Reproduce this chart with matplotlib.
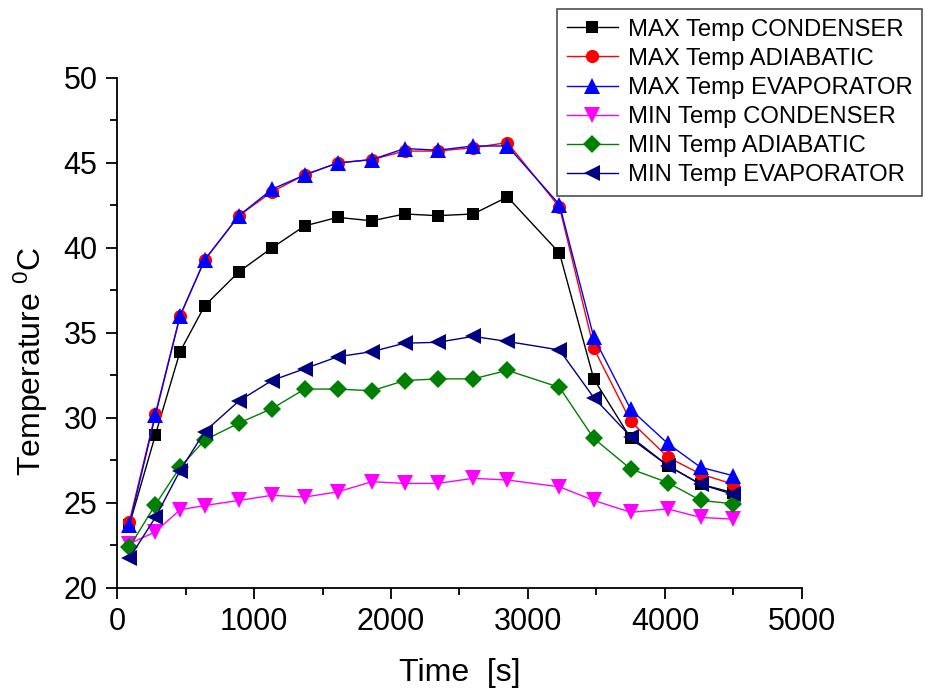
import matplotlib
matplotlib.use("Agg")
import matplotlib.pyplot as plt
from matplotlib.ticker import MultipleLocator

plt.rcParams['font.family'] = ['Liberation Sans', 'DejaVu Sans']
plt.rcParams['mathtext.default'] = 'regular'

time_s = [90, 280, 460, 640, 890, 1130, 1370, 1610, 1860, 2100, 2340, 2600,
          2850, 3230, 3480, 3750, 4020, 4260, 4500]

max_condenser = [23.7, 29.0, 33.9, 36.6, 38.6, 40.0, 41.3, 41.8, 41.6, 42.0, 41.9, 42.0,
                 43.0, 39.7, 32.3, 28.8, 27.2, 26.1, 25.6]
max_adiabatic = [23.9, 30.25, 36.0, 39.3, 41.9, 43.3, 44.3, 45.0, 45.2, 45.7, 45.7, 45.9,
                 46.2, 42.4, 34.1, 29.8, 27.7, 26.7, 26.1]
max_evaporator = [23.7, 30.15, 36.0, 39.3, 41.9, 43.45, 44.3, 45.0, 45.2, 45.85, 45.75, 46.0,
                  46.0, 42.55, 34.75, 30.5, 28.5, 27.1, 26.6]
min_condenser = [22.6, 23.3, 24.6, 24.85, 25.15, 25.45, 25.35, 25.65, 26.25, 26.15, 26.15, 26.45,
                 26.35, 25.95, 25.15, 24.45, 24.65, 24.15, 24.05]
min_adiabatic = [22.4, 24.9, 27.1, 28.7, 29.7, 30.55, 31.7, 31.7, 31.6, 32.2, 32.3, 32.3,
                 32.8, 31.8, 28.8, 27.0, 26.2, 25.15, 24.95]
min_evaporator = [21.75, 24.15, 26.9, 29.2, 31.0, 32.2, 32.9, 33.6, 33.9, 34.4, 34.45, 34.8,
                  34.5, 34.0, 31.2, 28.9, 27.2, 26.1, 25.5]

series = [
    ("MAX Temp CONDENSER", max_condenser, "#000000", "s", 9),
    ("MAX Temp ADIABATIC", max_adiabatic, "#FF0000", "o", 9.5),
    ("MAX Temp EVAPORATOR", max_evaporator, "#0000FF", "^", 11),
    ("MIN Temp CONDENSER", min_condenser, "#FF00FF", "v", 11),
    ("MIN Temp ADIABATIC", min_adiabatic, "#008000", "D", 9),
    ("MIN Temp EVAPORATOR", min_evaporator, "#000080", "<", 11),
]

fig = plt.figure(figsize=(9.25, 6.95), dpi=100)
ax = fig.add_axes([0.1265, 0.154, 0.7405, 0.7338])

for label, vals, color, marker, ms in series:
    ax.plot(time_s, vals, color=color, marker=marker, markersize=ms,
            linewidth=1.0, markeredgewidth=0, label=label)

ax.set_xlim(0, 5000)
ax.set_ylim(20, 50)
ax.xaxis.set_major_locator(MultipleLocator(1000))
ax.xaxis.set_minor_locator(MultipleLocator(500))
ax.yaxis.set_major_locator(MultipleLocator(5))
ax.yaxis.set_minor_locator(MultipleLocator(2.5))

ax.spines['top'].set_visible(False)
ax.spines['right'].set_visible(False)
for sp in ('left', 'bottom'):
    ax.spines[sp].set_linewidth(1.3)

ax.tick_params(axis='both', which='major', direction='out', length=8, width=1.3,
               labelsize=22, pad=6)
ax.tick_params(axis='both', which='minor', direction='out', length=5, width=1.3)

ax.set_xlabel("Time  [s]", fontsize=23, labelpad=15)
ax.set_ylabel("Temperature $^{0}$C", fontsize=23, labelpad=10)
ax.yaxis.label.set_y(0.445)

leg = fig.legend(loc='upper right', bbox_to_anchor=(922 / 925, 1 - 9 / 695),
                 fontsize=17.2, frameon=True, fancybox=False, handlelength=2.15,
                 handletextpad=0.4, labelspacing=0.3, borderpad=0.4,
                 borderaxespad=0)
leg.get_frame().set_edgecolor('#222222')
leg.get_frame().set_linewidth(1.2)

fig.savefig("out.png", dpi=100)
